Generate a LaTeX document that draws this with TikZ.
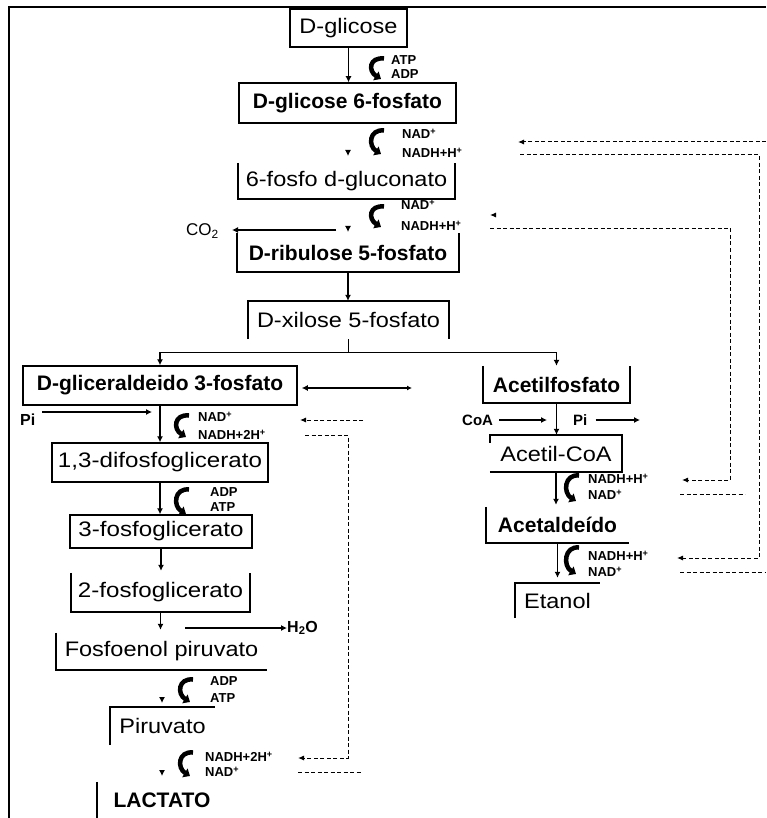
\documentclass[tikz,border=0pt]{standalone}
\usepackage{fontspec}
\setmainfont{Liberation Sans}
\usetikzlibrary{arrows.meta}
\newcommand\wt[1]{\scalebox{1.12}[1]{#1}}
\newcommand\cofarr[3]{\draw[cof] (#1+6,#2+2.5) .. controls (#1-9,#2+1) and (#1-10,#3-9) .. (#1+3,#3-1);}
\begin{document}
\begin{tikzpicture}[x=1pt,y=-1pt,
  lbl/.style={inner sep=0pt, font=\fontsize{21}{21}\selectfont},
  blbl/.style={inner sep=0pt, font=\fontsize{21}{21}\selectfont\bfseries},
  bx/.style={draw, line width=1.5pt},
  edge/.style={line width=1.5pt},
  arr/.style={line width=1.1pt, -{Latex[length=6pt,width=6pt]}},
  cof/.style={line width=4.5pt, -{Triangle[length=6pt,width=10pt]}},
  sm/.style={anchor=west, inner sep=0pt, font=\fontsize{13}{13}\selectfont\bfseries},
  mid/.style={inner sep=0pt, font=\fontsize{16}{16}\selectfont\bfseries},
  dsh/.style={line width=1pt, dash pattern=on 4pt off 2.5pt},
  dar/.style={dsh, -{Latex[length=6pt,width=5pt]}}
]
\useasboundingbox (0,0) rectangle (766,818);
% frame
\draw[line width=1.6pt] (9,818) -- (9,7) -- (766,7);

% ---------- main column ----------
\node[bx,lbl,minimum width=117pt,minimum height=38pt] (glc) at (348.5,28) {\wt{D-glicose}};
\node[bx,blbl,minimum width=217pt,minimum height=40pt] (g6p) at (347.5,103) {D-glicose 6-fosfato};
\node[lbl,minimum width=217pt,minimum height=36pt] (gluc) at (346.5,181) {\wt{6-fosfo d-gluconato}};
\draw[edge] (gluc.north west) -- (gluc.south west) -- (gluc.south east) -- (gluc.north east);
\node[blbl,minimum width=222pt,minimum height=39pt] (rib) at (348,252.5) {D-ribulose 5-fosfato};
\draw[edge] (rib.north west) -- (rib.south west) -- (rib.south east) -- (rib.north east);
\node[lbl,minimum width=201pt,minimum height=38pt] (xil) at (348.5,320) {\wt{D-xilose 5-fosfato}};
\draw[edge] (xil.south west) -- (xil.north west) -- (xil.north east) -- (xil.south east);

\node[bx,blbl,minimum width=274pt,minimum height=39pt] (gap) at (160,385.5) {D-gliceraldeido 3-fosfato};
\node[bx,lbl,minimum width=216pt,minimum height=39pt] (bpg) at (160,462.5) {\scalebox{1.15}[1]{1,3-difosfoglicerato}};
\node[bx,lbl,minimum width=182pt,minimum height=33pt] (pg3) at (161,531.5) {\scalebox{1.15}[1]{3-fosfoglicerato}};
\node[lbl,minimum width=179pt,minimum height=39pt] (pg2) at (160.5,592.5) {\scalebox{1.15}[1]{2-fosfoglicerato}};
\draw[edge] (pg2.north west) -- (pg2.south west) -- (pg2.south east) -- (pg2.north east);
\node[lbl,minimum width=211pt,minimum height=37pt] (pep) at (161.5,651.5) {\wt{Fosfoenol piruvato}};
\draw[edge] (pep.north west) -- (pep.south west) -- (pep.south east);
\node[lbl,minimum width=105pt,minimum height=38pt] (pyr) at (162.5,726) {\wt{Piruvato}};
\draw[edge] (pyr.south west) -- (pyr.north west) -- (pyr.north east);
\node[blbl,minimum width=130pt,minimum height=36pt] (lac) at (162,800) {LACTATO};
\draw[edge] (lac.north west) -- (lac.south west);

% ---------- right column ----------
\node[blbl,minimum width=147pt,minimum height=37pt] (acp) at (556.5,384.5) {Acetilfosfato};
\draw[edge] (acp.north west) -- (acp.south west) -- (acp.south east) -- (acp.north east);
\node[lbl,minimum width=132pt,minimum height=37pt] (acoa) at (556,453.5) {\wt{Acetil-CoA}};
\draw[edge] (acoa.south west) -- (acoa.south east) -- (acoa.north east) -- (acoa.north west) -- ([yshift=-8pt]acoa.north west);
\node[blbl,minimum width=143pt,minimum height=36pt] (acal) at (557.5,525) {Acetaldeído};
\draw[edge] (acal.north west) -- (acal.south west) -- (acal.south east);
\node[lbl,minimum width=85pt,minimum height=35pt] (eth) at (557.5,600.5) {\wt{Etanol}};
\draw[edge] (eth.south west) -- (eth.north west) -- (eth.north east);

% ---------- solid arrows ----------
\draw[arr] (glc.south) -- (glc.south |- g6p.north);
\coordinate (h1) at (348,156);
\draw[arr] ([yshift=5pt]h1) -- (h1);
\coordinate (h2) at (348,232);
\draw[arr] ([yshift=5pt]h2) -- (h2);
\node[anchor=east,inner sep=0pt,font=\fontsize{17}{17}\selectfont] (co2) at (219,231) {CO\textsubscript{2}};
\coordinate (co2s) at (336,230);
\coordinate (co2e) at ([xshift=13pt]co2.east);
\draw[arr] (co2s) -- (co2s -| co2e);
\draw[arr] (rib.south) -- (rib.south |- xil.north);
\coordinate (br) at ([yshift=-13pt]xil.south);
\draw[line width=1.2pt] (xil.south) -- (br);
\draw[arr] (br) -| (gap.north);
\draw[arr] (br) -| (acp.north);
\coordinate (gapr) at (412,388);
\coordinate (gapl) at ([xshift=4pt]gap.east);
\draw[line width=1.2pt, {Latex[length=6pt,width=6pt]}-{Latex[length=5pt,width=5pt]}] (gapl |- gapr) -- (gapr);
\node[mid,anchor=west] (pi) at (20,420) {Pi};
\coordinate (pis) at (42,412);
\coordinate (pie) at (152,412);
\draw[arr] (pis) -- (pie);
\draw[arr] (gap.south) -- (gap.south |- bpg.north);
\draw[arr] (bpg.south) -- (bpg.south |- pg3.north);
\coordinate (pg2t) at ([yshift=2pt]pg2.north);
\draw[arr] (pg3.south) -- (pg3.south |- pg2t);
\coordinate (pept) at ([yshift=3pt]pep.north);
\draw[arr] (pg2.south) -- (pg2.south |- pept);
\node[mid,anchor=west] (h2o) at (287,628) {H\textsubscript{2}O};
\coordinate (h2os) at (185,628);
\draw[arr] (h2os) -- (h2o.west);
\coordinate (h3) at (162,703);
\draw[arr] ([yshift=5pt]h3) -- (h3);
\coordinate (h4) at (162,776);
\draw[arr] ([yshift=5pt]h4) -- (h4);

\draw[arr] (acp.south) -- (acp.south |- acoa.north);
\node[mid,anchor=west,font=\fontsize{15}{15}\selectfont\bfseries] (coa) at (462,420) {CoA};
\coordinate (coae) at (547,420);
\draw[arr] ([xshift=6pt]coa.east) -- (coae);
\node[mid,anchor=west,font=\fontsize{15}{15}\selectfont\bfseries] (pi2) at (573,420) {Pi};
\coordinate (pi2e) at (640,420);
\draw[arr] ([xshift=8pt]pi2.east) -- (pi2e);
\coordinate (acalt) at ([yshift=2pt]acal.north);
\draw[arr] (acoa.south) -- (acoa.south |- acalt);
\coordinate (etht) at ([yshift=5pt]eth.north);
\draw[arr] (acal.south) -- (acal.south |- etht);

% ---------- cofactor arrows ----------
\cofarr{378}{56}{80}
\node[sm] (c1a) at (391,60) {ATP};
\node[sm] (c1b) at (391,74) {ADP};
\cofarr{378}{128}{155}
\node[sm] (c2a) at (402,134) {NAD\textsuperscript{+}};
\node[sm] (c2b) at (402,153) {NADH+H\textsuperscript{+}};
\cofarr{378}{204}{228}
\node[sm] (c3a) at (401,205) {NAD\textsuperscript{+}};
\node[sm] (c3b) at (401,226) {NADH+H\textsuperscript{+}};
\cofarr{183}{413}{438}
\node[sm] (c4a) at (198,417) {NAD\textsuperscript{+}};
\node[sm] (c4b) at (198,435) {NADH+2H\textsuperscript{+}};
\cofarr{183}{487}{515}
\node[sm] (c5a) at (210,492) {ADP};
\node[sm] (c5b) at (210,507) {ATP};
\cofarr{187}{677}{703}
\node[sm] (c6a) at (210,681) {ADP};
\node[sm] (c6b) at (210,698) {ATP};
\cofarr{187}{750}{777}
\node[sm] (c7a) at (205,757) {NADH+2H\textsuperscript{+}};
\node[sm] (c7b) at (205,772) {NAD\textsuperscript{+}};
\cofarr{573}{473}{502}
\node[sm] (c8a) at (588,479) {NADH+H\textsuperscript{+}};
\node[sm] (c8b) at (588,495) {NAD\textsuperscript{+}};
\cofarr{573}{545}{575}
\node[sm] (c9a) at (588,556) {NADH+H\textsuperscript{+}};
\node[sm] (c9b) at (588,572) {NAD\textsuperscript{+}};

% ---------- dashed loops ----------
\coordinate (a1) at (766,142); \coordinate (a1e) at (518,142);
\draw[dar] (a1) -- (a1e);
\coordinate (a2) at (520,155); \coordinate (a3) at (759,155);
\coordinate (a4) at (759,558); \coordinate (a5) at (677,558);
\draw[dar] (a2) -- (a3) -- (a4) -- (a5);
\coordinate (a6) at (680,572); \coordinate (a7) at (766,572);
\draw[dsh] (a6) -- (a7);
\coordinate (b0) at (490,215);
\draw[dar] ([xshift=5pt]b0) -- (b0);
\coordinate (b1) at (490,228); \coordinate (b2) at (730,228);
\coordinate (b3) at (730,480); \coordinate (b4) at (682,480);
\draw[dar] (b1) -- (b2) -- (b3) -- (b4);
\coordinate (b5) at (680,494); \coordinate (b6) at (745,494);
\draw[dsh] (b5) -- (b6);
\coordinate (d1) at (363,420); \coordinate (d1e) at (300,420);
\draw[dar] (d1) -- (d1e);
\coordinate (d2) at (305,435); \coordinate (d3) at (348,435);
\coordinate (d4) at (348,758); \coordinate (d5) at (298,758);
\draw[dar] (d2) -- (d3) -- (d4) -- (d5);
\coordinate (d6) at (298,772); \coordinate (d7) at (362,772);
\draw[dsh] (d6) -- (d7);
\end{tikzpicture}
\end{document}
